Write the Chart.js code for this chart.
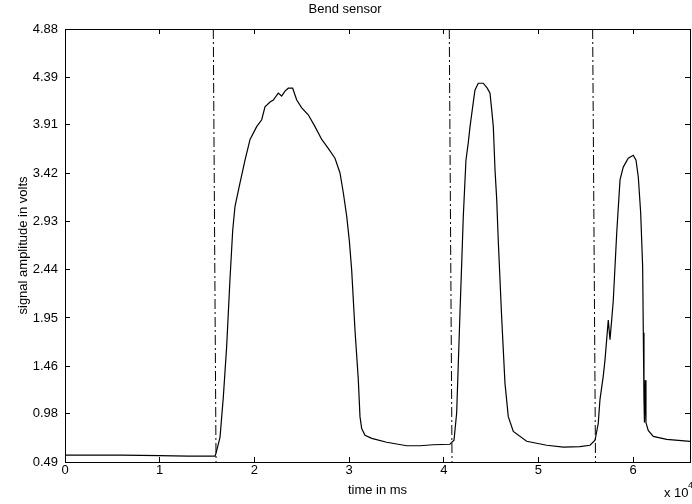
<!DOCTYPE html>
<html>
<head>
<meta charset="utf-8">
<script src="https://cdn.jsdelivr.net/npm/chart.js@4.4.0/dist/chart.umd.min.js"></script>
<style>
  html, body { margin: 0; padding: 0; background: #fff; }
  #wrap { width: 692px; height: 504px; }
</style>
</head>
<body>
<div id="wrap"><canvas id="chartBend"></canvas></div>
<script>
/* Bend sensor - time axis in units of 10^4 ms, amplitude in volts */
const timeValues = [0, 0.3, 0.6, 1.0, 1.3, 1.584, 1.595, 1.637, 1.672, 1.707, 1.742, 1.771, 1.795, 1.848, 1.901, 1.954,
  2.024, 2.077, 2.112, 2.165, 2.2, 2.252, 2.288, 2.323, 2.358, 2.404, 2.447, 2.5, 2.569, 2.64, 2.711, 2.78, 2.851,
  2.904, 2.939, 2.975, 3.002, 3.027, 3.062, 3.097, 3.115, 3.133, 3.168, 3.239, 3.397, 3.608, 3.749, 3.889, 4.065,
  4.108, 4.136, 4.171, 4.189, 4.206, 4.234, 4.259, 4.277, 4.305, 4.329, 4.364, 4.417, 4.459, 4.488, 4.506, 4.523,
  4.541, 4.559, 4.575, 4.611, 4.646, 4.681, 4.734, 4.875, 5.087, 5.262, 5.438, 5.544, 5.597, 5.631, 5.649, 5.684,
  5.702, 5.737, 5.755, 5.773, 5.79, 5.826, 5.861, 5.895, 5.948, 6.001, 6.03, 6.054, 6.079, 6.1, 6.107, 6.114, 6.119,
  6.128, 6.135, 6.159, 6.212, 6.354, 6.6];
const voltValues = [0.56, 0.56, 0.56, 0.555, 0.55, 0.55, 0.58, 0.74, 1.15, 1.66, 2.34, 2.84, 3.08, 3.32, 3.55, 3.76,
  3.89, 3.96, 4.09, 4.14, 4.16, 4.23, 4.20, 4.25, 4.28, 4.28, 4.16, 4.08, 4.01, 3.89, 3.76, 3.67, 3.57,
  3.42, 3.22, 2.98, 2.74, 2.44, 1.83, 1.33, 0.95, 0.83, 0.76, 0.73, 0.69, 0.655, 0.655, 0.665, 0.67,
  0.71, 0.99, 2.0, 2.5, 2.98, 3.55, 3.73, 3.89, 4.09, 4.26, 4.33, 4.33, 4.28, 4.23, 4.06, 3.89,
  3.45, 3.15, 2.74, 1.96, 1.29, 0.95, 0.80, 0.70, 0.66, 0.64, 0.645, 0.66, 0.71, 0.88, 1.12, 1.36,
  1.52, 1.93, 1.73, 1.93, 2.13, 2.81, 3.35, 3.48, 3.57, 3.60, 3.55, 3.38, 3.02, 2.47, 1.80, 1.12, 0.89,
  1.32, 0.89, 0.81, 0.75, 0.72, 0.70];

/* dash-dot event markers (top and bottom time of each line) */
const markerTop = [1.566, 4.058, 5.572];
const markerBottom = [1.595, 4.087, 5.602];

const xTickValues = [0, 1, 2, 3, 4, 5, 6];
const yTickValues = [0.49, 0.98, 1.46, 1.95, 2.44, 2.93, 3.42, 3.91, 4.39, 4.88];
const xMin = 0, xMax = 6.6, yMin = 0.49, yMax = 4.88;

const fontFamily = '"Liberation Sans Narrow", "Liberation Sans", Arial, sans-serif';

const signal = [];
for (let i in timeValues) signal.push({ x: timeValues[i], y: voltValues[i] });

const datasets = [
  {
    data: signal,
    borderColor: '#000',
    borderWidth: 1.2,
    pointRadius: 0,
    tension: 0,
  },
];
for (let i in markerTop) {
  datasets.push({
    data: [
      { x: markerTop[i], y: yMax },
      { x: markerBottom[i], y: yMin },
    ],
    borderColor: '#000',
    borderWidth: 1,
    borderDash: [10, 3, 2, 3],
    pointRadius: 0,
  });
}

const setTicks = (values) => (scale) => {
  scale.ticks = values.map((v) => ({ value: v }));
};

const tickFont = { family: fontFamily, size: 13 };
const inwardGrid = { drawOnChartArea: false, tickLength: -5, color: '#000', lineWidth: 1 };

/* "x 10^4" exponent under the x axis */
const exponentLabel = {
  id: 'exponentLabel',
  afterDraw(chart) {
    const ctx = chart.ctx;
    ctx.save();
    ctx.fillStyle = '#000';
    ctx.textBaseline = 'middle';
    ctx.font = '13px ' + fontFamily;
    ctx.fillText('x 10', 664, 493);
    ctx.font = '9px ' + fontFamily;
    ctx.fillText('4', 688, 486);
    ctx.restore();
  },
};

const ctx = document.getElementById('chartBend').getContext('2d');
const chartBend = new Chart(ctx, {
  type: 'line',
  data: { datasets: datasets },
  plugins: [exponentLabel],
  options: {
    responsive: true,
    maintainAspectRatio: false,
    animation: false,
    layout: { padding: { left: 0, right: 2, top: 0, bottom: 0 } },
    plugins: {
      legend: { display: false },
      tooltip: { enabled: false },
      title: {
        display: true,
        text: 'Bend sensor',
        color: '#000',
        font: { family: fontFamily, size: 13, weight: 'normal' },
        padding: { top: 2, bottom: 11.4 },
      },
    },
    scales: {
      x: {
        type: 'linear',
        position: 'bottom',
        min: xMin,
        max: xMax,
        afterBuildTicks: setTicks(xTickValues),
        afterFit: (scale) => { scale.height = 42; },
        ticks: { color: '#000', font: tickFont, padding: 6, maxRotation: 0, autoSkip: false },
        grid: inwardGrid,
        border: { color: '#000', width: 1 },
        title: {
          display: true,
          text: 'time in ms',
          color: '#000',
          font: { family: fontFamily, size: 13 },
          padding: { top: 0, bottom: 6 },
        },
      },
      xTop: {
        type: 'linear',
        position: 'top',
        min: xMin,
        max: xMax,
        afterBuildTicks: setTicks(xTickValues),
        afterFit: (scale) => { scale.height = 0; },
        ticks: { display: false },
        grid: inwardGrid,
        border: { color: '#000', width: 1 },
      },
      y: {
        type: 'linear',
        position: 'left',
        min: yMin,
        max: yMax,
        afterBuildTicks: setTicks(yTickValues),
        afterFit: (scale) => { scale.width = 65; },
        ticks: {
          color: '#000',
          font: tickFont,
          padding: 12,
          autoSkip: false,
          callback: (v) => v.toFixed(2),
        },
        grid: inwardGrid,
        border: { color: '#000', width: 1 },
        title: {
          display: true,
          text: 'signal amplitude in volts',
          color: '#000',
          font: { family: fontFamily, size: 13 },
          padding: { top: 16, bottom: 0 },
        },
      },
      yRight: {
        type: 'linear',
        position: 'right',
        min: yMin,
        max: yMax,
        afterBuildTicks: setTicks(yTickValues),
        afterFit: (scale) => { scale.width = 0; },
        ticks: { display: false },
        grid: inwardGrid,
        border: { color: '#000', width: 1 },
      },
    },
  },
});
</script>
</body>
</html>
